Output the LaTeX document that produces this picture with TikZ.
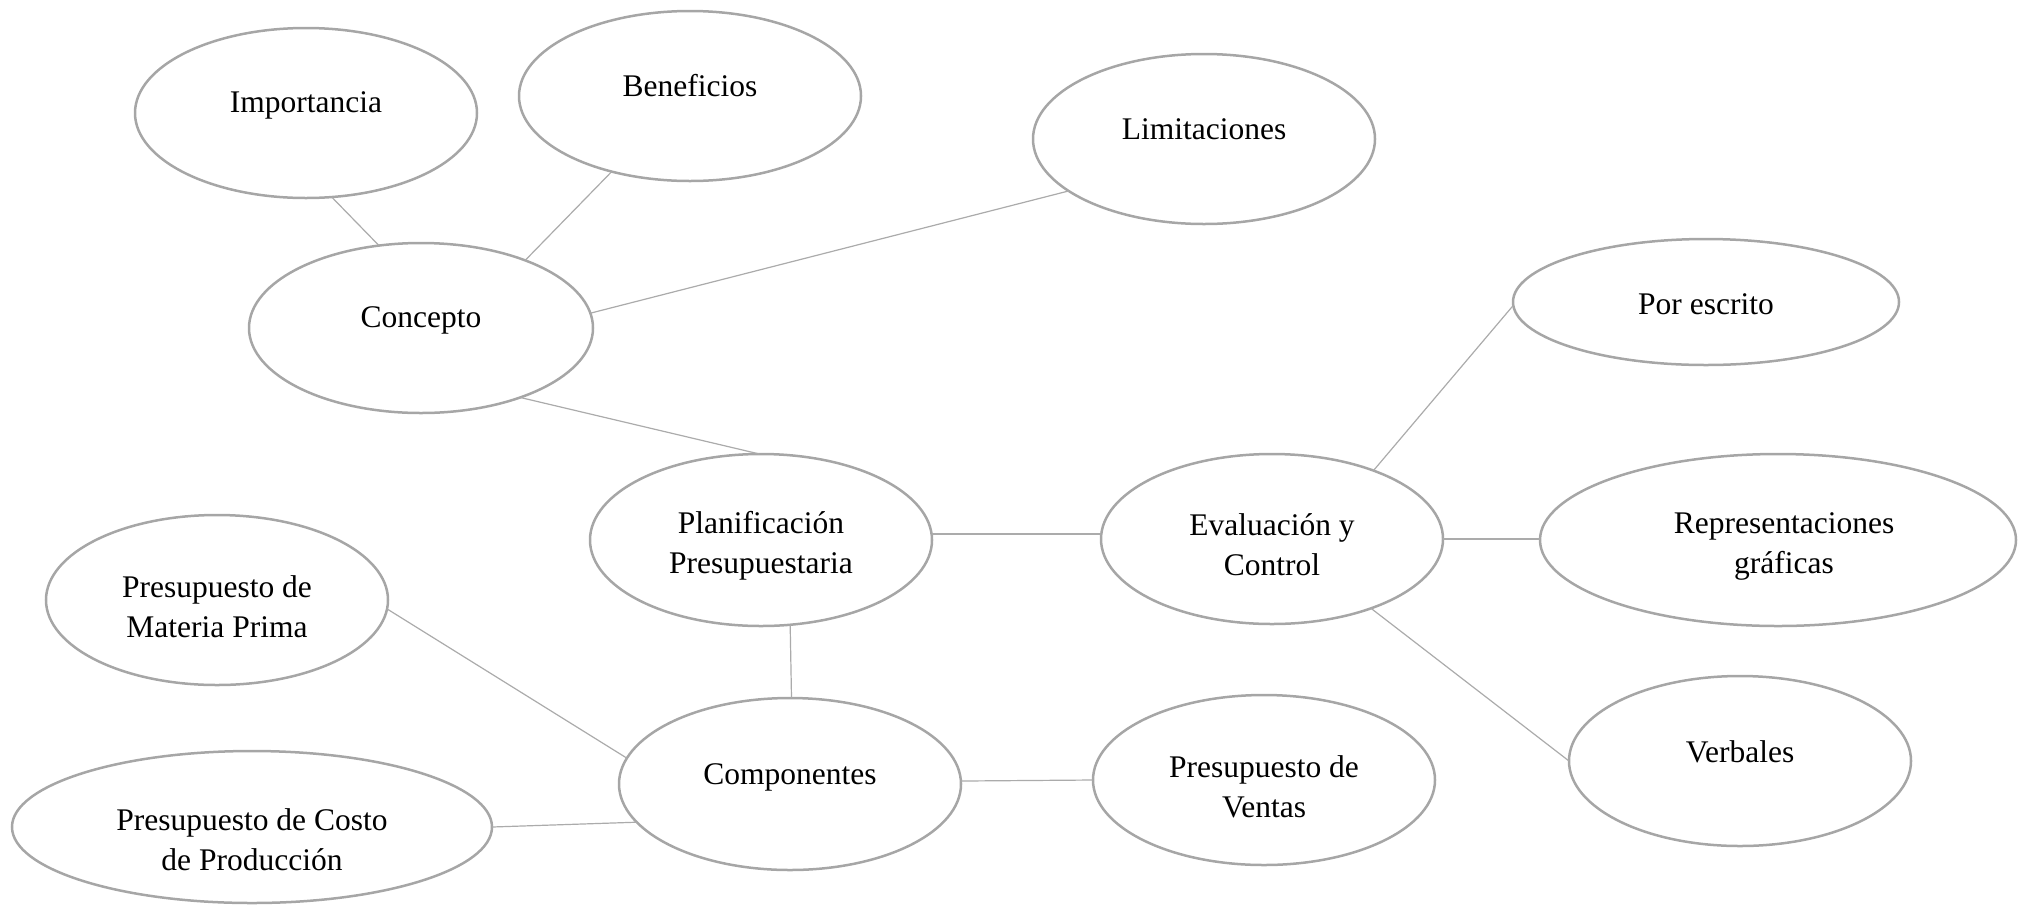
\documentclass[tikz,border=0pt]{standalone}
\usepackage{fontspec}
\setmainfont{Liberation Serif}
\usetikzlibrary{shapes.geometric}
\definecolor{ellgray}{HTML}{A6A6A6}
\definecolor{lngray}{HTML}{ABABAB}
\begin{document}
\begin{tikzpicture}[x=1pt,y=-1pt,
  ell/.style={ellipse,draw=ellgray,line width=2.5pt,inner sep=0pt,outer sep=0pt},
  lbl/.style={font=\fontsize{31.5}{40}\selectfont,align=center,inner sep=0pt},
  conn/.style={draw=lngray,line width=1.2pt}]
\useasboundingbox (0,0) rectangle (2018,906);

\node[ell,minimum width=342pt,minimum height=170pt,label={[lbl,yshift=8pt]center:Importancia}] (imp) at (306,113) {};
\node[ell,minimum width=342pt,minimum height=170pt,label={[lbl,yshift=10pt]center:Beneficios}] (ben) at (690,96) {};
\node[ell,minimum width=342pt,minimum height=170pt,label={[lbl,yshift=10pt]center:Limitaciones}] (lim) at (1204,139) {};
\node[ell,minimum width=344pt,minimum height=170pt,label={[lbl,yshift=8pt]center:Concepto}] (con) at (421,328) {};
\node[ell,minimum width=386pt,minimum height=126pt,label={[lbl,yshift=-2pt]center:Por escrito}] (por) at (1706,302) {};
\node[ell,minimum width=342pt,minimum height=172pt,label={[lbl,yshift=-6pt]center:Planificación\\Presupuestaria}] (plan) at (761,540) {};
\node[ell,minimum width=342pt,minimum height=170pt,label={[lbl,yshift=-6pt]center:Evaluación y\\Control}] (eval) at (1272,539) {};
\node[ell,minimum width=476pt,minimum height=172pt,label={[lbl,yshift=-6pt,xshift=6pt]center:Representaciones\\gráficas}] (rep) at (1778,540) {};
\node[ell,minimum width=342pt,minimum height=170pt,label={[lbl,yshift=-7pt]center:Presupuesto de\\Materia Prima}] (mat) at (217,600) {};
\node[ell,minimum width=342pt,minimum height=172pt,label={[lbl,yshift=7pt]center:Componentes}] (comp) at (790,784) {};
\node[ell,minimum width=342pt,minimum height=170pt,label={[lbl,yshift=-7pt]center:Presupuesto de\\Ventas}] (ven) at (1264,780) {};
\node[ell,minimum width=342pt,minimum height=170pt,label={[lbl,yshift=9pt]center:Verbales}] (verb) at (1740,761) {};
\node[ell,minimum width=480pt,minimum height=152pt,label={[lbl,yshift=-13pt]center:Presupuesto de Costo\\de Producción}] (cos) at (252,827) {};

\draw[conn] (imp.-73) -- (con.117.4);
\draw[conn] (ben.-136.8) -- (con.33.8);
\draw[conn] (lim.-159.9) -- (con.5);
\draw[conn] (con.-35.9) -- (plan.91.3);
\draw[conn] (plan.2) -- (plan.2 -| eval.west);
\draw[conn] (plan.-71.8) -- (comp.89.3);
\draw[conn] (eval.34.9) -- (por.181);
\draw[conn] (eval.east) -- (eval.east -| rep.west);
\draw[conn] (eval.-35.8) -- (verb.180);
\draw[conn] (mat.-3.6) -- (comp.171.3);
\draw[conn] (cos.-0.5) -- (comp.194.4);
\draw[conn] (comp.1.3) -- (ven.180);
\end{tikzpicture}
\end{document}
